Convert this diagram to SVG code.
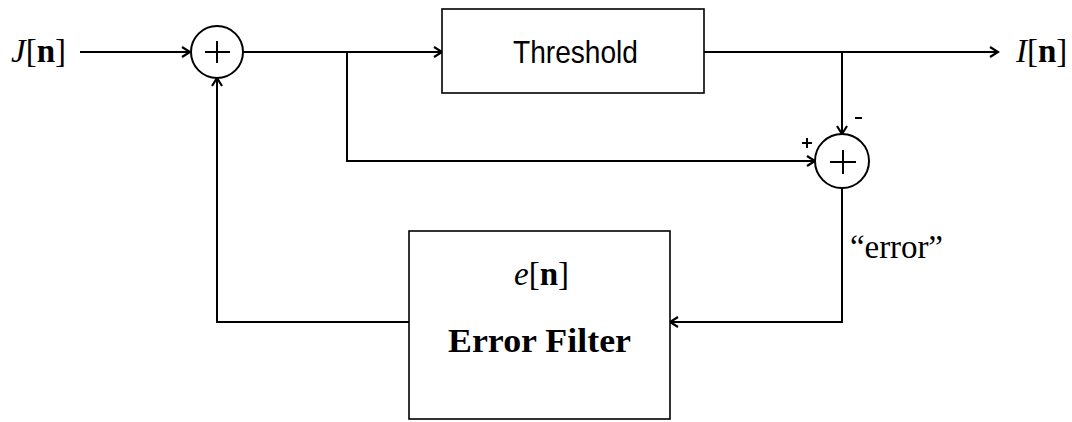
<svg xmlns="http://www.w3.org/2000/svg" width="1072" height="422" viewBox="0 0 1072 422">
<style>
.ln{fill:none;stroke:#000;stroke-width:2}
.box{fill:#fff;stroke:#000;stroke-width:1.6}
.sum{fill:#fff;stroke:#000;stroke-width:2}
.m{font-family:"Liberation Serif","Times New Roman",serif;font-size:33px;fill:#000}
.it{font-style:italic}
.b{font-weight:bold}
.sans{font-family:"Liberation Sans",Arial,sans-serif;font-size:32px;fill:#000}
</style>
<defs>
<marker id="ah" markerWidth="12" markerHeight="12" refX="10" refY="6" orient="auto" markerUnits="userSpaceOnUse">
<path d="M2 1 L10 6 L2 11" fill="none" stroke="#000" stroke-width="2.2"/>
</marker>
</defs>
<g id="connectors">
<path class="ln" d="M80 52 H190" marker-end="url(#ah)"/>
<path class="ln" d="M243 52 H442" marker-end="url(#ah)"/>
<path class="ln" d="M704 52 H998" marker-end="url(#ah)"/>
<path class="ln" d="M347 52 V161 H815" marker-end="url(#ah)"/>
<path class="ln" d="M842 52 V134" marker-end="url(#ah)"/>
<path class="ln" d="M842 188 V322 H670" marker-end="url(#ah)"/>
<path class="ln" d="M409 322 H217 V78" marker-end="url(#ah)"/>
</g>
<g id="input">
<text class="m" x="11" y="62"><tspan class="it">J</tspan>[<tspan class="b">n</tspan>]</text>
</g>
<g id="sum1">
<circle class="sum" cx="217" cy="52" r="26"/>
<path class="ln" d="M205 52 H230 M217 41 V63"/>
</g>
<g id="threshold">
<rect class="box" x="442" y="9" width="262" height="84"/>
<text class="sans" x="513" y="63" textLength="125" lengthAdjust="spacingAndGlyphs">Threshold</text>
</g>
<g id="output">
<text class="m" x="1016" y="62"><tspan class="it">I</tspan>[<tspan class="b">n</tspan>]</text>
</g>
<g id="sum2">
<circle class="sum" cx="842" cy="161" r="27"/>
<path class="ln" d="M830 162 H856 M843 150 V174"/>
<path class="ln" d="M802 143 H812 M807 138 V148" stroke-width="1.6"/>
<path class="ln" d="M855 118 H862" stroke-width="1.6"/>
</g>
<g id="error-label">
<text class="m" x="850" y="258" textLength="93" lengthAdjust="spacing">“error”</text>
</g>
<g id="error-filter">
<rect class="box" x="409" y="231" width="261" height="188"/>
<text class="m" x="514" y="285" font-size="30"><tspan class="it">e</tspan>[<tspan class="b">n</tspan>]</text>
<text class="m b" x="448" y="352" textLength="183" lengthAdjust="spacingAndGlyphs">Error Filter</text>
</g>
</svg>
